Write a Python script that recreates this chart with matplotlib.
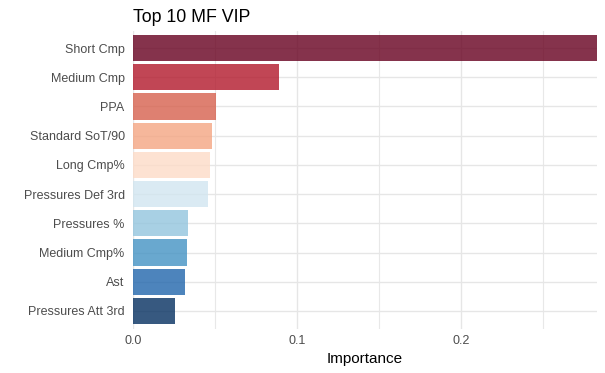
import matplotlib
matplotlib.use("Agg")
from matplotlib import pyplot as plt
from matplotlib.ticker import MultipleLocator

plt.rcParams['font.family'] = ['Liberation Sans', 'DejaVu Sans']

features = ["Short Cmp", "Medium Cmp", "PPA", "Standard SoT/90", "Long Cmp%",
            "Pressures Def 3rd", "Pressures %", "Medium Cmp%", "Ast", "Pressures Att 3rd"]
importance = [0.283, 0.089, 0.0506, 0.0482, 0.047, 0.0457, 0.0335, 0.033, 0.0317, 0.0256]
colors = ["#67001F", "#B2182B", "#D6604D", "#F4A582", "#FDDBC7",
          "#D1E5F0", "#92C5DE", "#4393C3", "#2166AC", "#053061"]

fig = plt.figure(figsize=(6.05, 3.73), dpi=100)
ax = fig.add_axes([133 / 605, 1 - 328.5 / 373, 464 / 605, 298 / 373])

pos = list(range(len(features), 0, -1))
ax.barh(pos, importance, height=0.9, color=colors, alpha=0.8, zorder=3)

ax.set_xlim(0, max(importance))
ax.set_ylim(0.4, len(features) + 0.6)
ax.set_yticks(pos)
ax.set_yticklabels(features)
ax.xaxis.set_minor_locator(MultipleLocator(0.05))
ax.set_xticks([0.0, 0.1, 0.2])
ax.set_xticklabels(["0.0", "0.1", "0.2"])

ax.grid(True, which='major', color='#E6E6E6', linewidth=1.0, zorder=0)
ax.grid(True, which='minor', axis='x', color='#E8E8E8', linewidth=0.8, zorder=0)
ax.set_axisbelow(True)
for s in ax.spines.values():
    s.set_visible(False)
ax.tick_params(which='both', length=0, labelsize=9, labelcolor='#4D4D4D')
ax.tick_params(axis='y', pad=6)
ax.tick_params(axis='x', pad=5)

ax.set_xlabel("Importance", fontsize=11, color='black', labelpad=3)
ax.set_title("Top 10 MF VIP", fontsize=12.8, loc='left', pad=6)

plt.savefig("out.png", dpi=100)
plt.close(fig)
